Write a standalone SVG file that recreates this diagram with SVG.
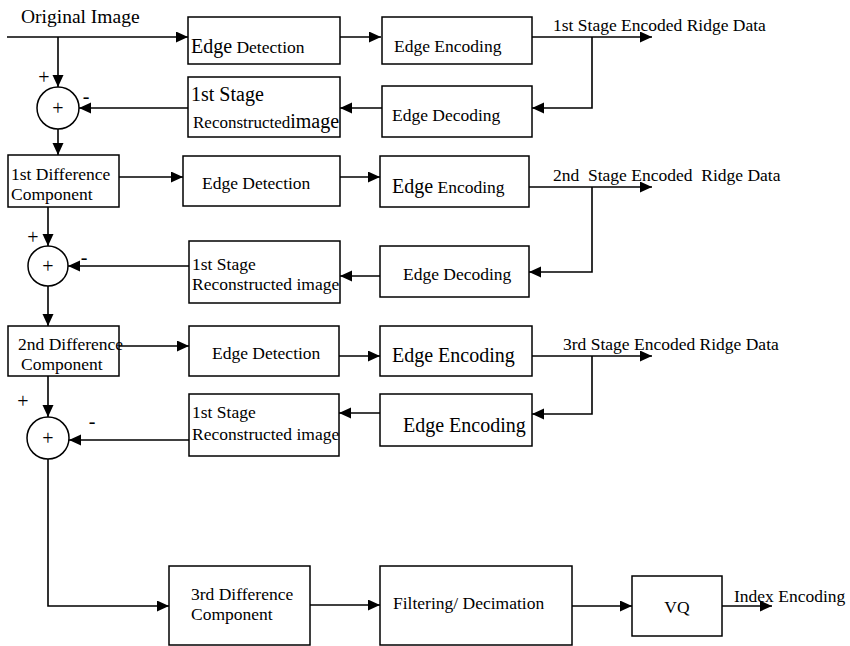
<svg xmlns="http://www.w3.org/2000/svg" width="850" height="646" viewBox="0 0 850 646">
<style>
text{font-family:"Liberation Serif","Times New Roman",serif;font-size:17.5px;fill:#000}
.box{fill:#fff;stroke:#000;stroke-width:1.5}
.sum{fill:#fff;stroke:#000;stroke-width:1.5}
.c path{fill:none;stroke:#000;stroke-width:1.6;marker-end:url(#ah)}
.big{font-size:20px}
.pl{font-size:20px;text-anchor:middle}
</style>
<defs>
<marker id="ah" markerUnits="userSpaceOnUse" markerWidth="13" markerHeight="12" refX="12" refY="5.5" orient="auto">
<path d="M0,0 L12,5.5 L0,11 z" fill="#000"/>
</marker>
</defs>
<rect width="850" height="646" fill="#fff"/>
<g id="connectors" class="c">
<path d="M7,37 H188"/>
<path d="M58,37 V87"/>
<path d="M188,108 H79"/>
<path d="M58,129 V155"/>
<path d="M340,37 H381"/>
<path d="M532,37 H652"/>
<path d="M592,37 V108 H532"/>
<path d="M382,108 H340"/>
<path d="M119,177 H183"/>
<path d="M340,177 H380"/>
<path d="M529,187 H652"/>
<path d="M592,187 V272 H529"/>
<path d="M380,276 H340"/>
<path d="M189,266 H68"/>
<path d="M48,207 V246"/>
<path d="M48,286 V326"/>
<path d="M119,346 H189"/>
<path d="M339,356 H380"/>
<path d="M532,356 H652"/>
<path d="M592,356 V414 H532"/>
<path d="M380,413 H339"/>
<path d="M189,440 H69"/>
<path d="M48,376 V417"/>
<path d="M48,459 V606 H169"/>
<path d="M310,605 H380"/>
<path d="M572,606 H632"/>
<path d="M722,606 H772"/>
</g>
<text x="21" y="23" style="font-size:19.5px">Original Image</text>
<text x="553" y="31">1st Stage Encoded Ridge Data</text>
<text x="553" y="181">2nd&#160; Stage Encoded&#160; Ridge Data</text>
<text x="563" y="350">3rd Stage Encoded Ridge Data</text>
<text x="734" y="602">Index Encoding</text>
<g id="sum1"><circle class="sum" cx="58" cy="108" r="21"/><text class="pl" x="58" y="115">+</text><text class="pl" x="44" y="84">+</text><text class="pl" x="86" y="103">-</text></g>
<g id="sum2"><circle class="sum" cx="48" cy="266" r="20"/><text class="pl" x="48" y="273">+</text><text class="pl" x="33" y="244">+</text><text class="pl" x="84" y="264">-</text></g>
<g id="sum3"><circle class="sum" cx="48" cy="438" r="21"/><text class="pl" x="48" y="445">+</text><text class="pl" x="23" y="408">+</text><text class="pl" x="92" y="428">-</text></g>
<g id="ed1"><rect class="box" x="188" y="17" width="152" height="47"/><text x="191" y="53"><tspan class="big">Edge</tspan> Detection</text></g>
<g id="ee1"><rect class="box" x="382" y="17" width="150" height="47"/><text x="394" y="52">Edge Encoding</text></g>
<g id="rc1"><rect class="box" x="188" y="77" width="152" height="60"/><text x="191" y="101" class="big">1st Stage</text><text x="193" y="128" style="font-size:17px">Reconstructed<tspan class="big">image</tspan></text></g>
<g id="dd1"><rect class="box" x="382" y="86" width="150" height="51"/><text x="392" y="121">Edge Decoding</text></g>
<g id="diff1"><rect class="box" x="8" y="155" width="111" height="52"/><text x="11" y="180">1st Difference</text><text x="11" y="200">Component</text></g>
<g id="ed2"><rect class="box" x="183" y="156" width="157" height="50"/><text x="202" y="189">Edge Detection</text></g>
<g id="ee2"><rect class="box" x="380" y="156" width="149" height="51"/><text x="392" y="193"><tspan class="big">Edge</tspan> Encoding</text></g>
<g id="rc2"><rect class="box" x="189" y="241" width="151" height="62"/><text x="192" y="270">1st Stage</text><text x="192" y="290">Reconstructed image</text></g>
<g id="dd2"><rect class="box" x="380" y="246" width="149" height="51"/><text x="403" y="280">Edge Decoding</text></g>
<g id="diff2"><rect class="box" x="8" y="326" width="111" height="50"/><text x="18" y="350">2nd Difference</text><text x="21" y="370">Component</text></g>
<g id="ed3"><rect class="box" x="189" y="326" width="150" height="50"/><text x="212" y="359">Edge Detection</text></g>
<g id="ee3"><rect class="box" x="380" y="326" width="152" height="50"/><text x="392" y="362" class="big">Edge Encoding</text></g>
<g id="rc3"><rect class="box" x="189" y="394" width="150" height="62"/><text x="192" y="418">1st Stage</text><text x="192" y="440">Reconstructed image</text></g>
<g id="ee3b"><rect class="box" x="380" y="394" width="152" height="52"/><text x="403" y="432" class="big">Edge Encoding</text></g>
<g id="diff3"><rect class="box" x="169" y="566" width="141" height="79"/><text x="191" y="600">3rd Difference</text><text x="191" y="620">Component</text></g>
<g id="filt"><rect class="box" x="380" y="566" width="192" height="79"/><text x="393" y="609">Filtering/ Decimation</text></g>
<g id="vq"><rect class="box" x="632" y="576" width="90" height="60"/><text x="677" y="613" text-anchor="middle">VQ</text></g>
</svg>
